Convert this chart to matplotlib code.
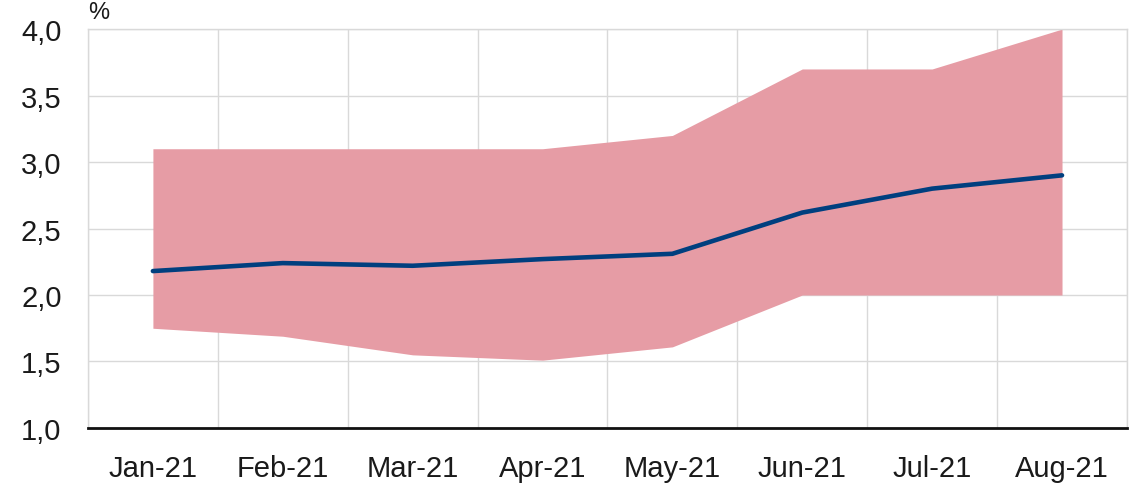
import matplotlib.pyplot as plt
from matplotlib.ticker import FuncFormatter
import numpy as np

months = ["Jan-21", "Feb-21", "Mar-21", "Apr-21", "May-21", "Jun-21", "Jul-21", "Aug-21"]
central = [2.18, 2.24, 2.22, 2.27, 2.31, 2.62, 2.80, 2.90]
band_low = [1.75, 1.69, 1.55, 1.51, 1.61, 2.0, 2.0, 2.0]
band_high = [3.1, 3.1, 3.1, 3.1, 3.2, 3.7, 3.7, 4.0]

plt.rcParams['font.family'] = ['Liberation Sans', 'DejaVu Sans']

fig = plt.figure(figsize=(11.38, 4.85), dpi=100)
ax = fig.add_axes([0.0773, 0.1155, 0.913, 0.8225])

x = np.arange(len(months))
ax.fill_between(x, band_low, band_high, color="#e69ca5", linewidth=0, zorder=2)
ax.plot(x, central, color="#003f7f", linewidth=3.3, solid_capstyle="round", zorder=3)

ax.set_xlim(-0.5, len(months) - 0.5)
ax.set_ylim(1.0, 4.0)
ax.set_yticks(np.arange(1.0, 4.01, 0.5))
ax.yaxis.set_major_formatter(FuncFormatter(lambda v, p: f"{v:.1f}".replace(".", ",")))
ax.set_xticks(x)
ax.set_xticklabels(months)
ax.set_xticks(np.arange(-0.5, len(months), 1.0), minor=True)

ax.grid(which="minor", axis="x", color="#d9d9d9", linewidth=1, zorder=0)
ax.grid(which="major", axis="y", color="#d9d9d9", linewidth=1, zorder=0)
ax.set_axisbelow(True)

ax.tick_params(which="both", length=0, labelsize=21, colors="#1a1a1a")
ax.tick_params(axis="y", pad=19)
ax.tick_params(axis="x", pad=19)

for side in ["left", "top", "right"]:
    ax.spines[side].set_color("#d9d9d9")
    ax.spines[side].set_linewidth(1)
ax.spines["bottom"].set_color("#111111")
ax.spines["bottom"].set_linewidth(2)

ax.text(0.0, 1.015, "%", transform=ax.transAxes, fontsize=17, ha="left", va="bottom", color="#1a1a1a")

plt.savefig("out.png", dpi=100)
